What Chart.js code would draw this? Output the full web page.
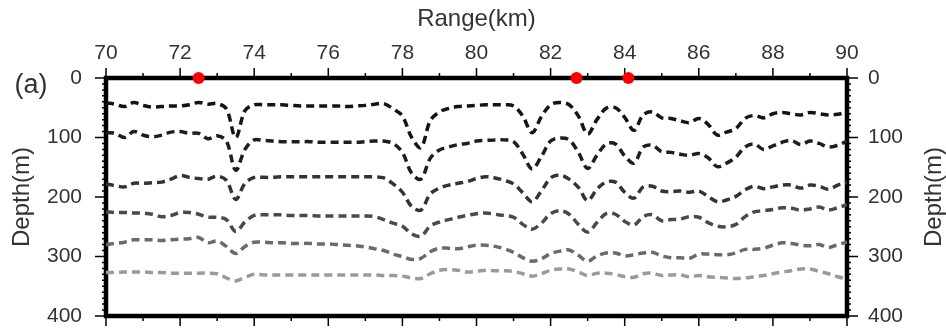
<!DOCTYPE html>
<html>
<head>
<meta charset="utf-8">
<script src="https://cdn.jsdelivr.net/npm/chart.js@4"></script>
<style>
  body { margin: 0; background: #fff; }
  canvas { display: block; }
</style>
</head>
<body>
<canvas id="depthChart" width="946" height="328"></canvas>
<script>
// range along the profile (km)
const rangeKm = [
  70, 70.25, 70.5, 70.75, 71, 71.25, 71.5, 71.75, 72, 72.25, 72.5, 72.75, 73, 73.25, 73.5, 73.75, 74, 74.25, 74.5, 74.75,
  75, 75.25, 75.5, 75.75, 76, 76.25, 76.5, 76.75, 77, 77.25, 77.5, 77.75, 78, 78.25, 78.5, 78.75, 79, 79.25, 79.5, 79.75,
  80, 80.25, 80.5, 80.75, 81, 81.25, 81.5, 81.75, 82, 82.25, 82.5, 82.75, 83, 83.25, 83.5, 83.75, 84, 84.25, 84.5, 84.75,
  85, 85.25, 85.5, 85.75, 86, 86.25, 86.5, 86.75, 87, 87.25, 87.5, 87.75, 88, 88.25, 88.5, 88.75, 89, 89.25, 89.5, 89.75, 90
];

// depth of each interface (m), shallowest first
const depth1 = [
  42, 44, 48, 41, 46, 49, 48, 47, 47, 45, 41, 44, 43, 52, 100, 55, 45, 45, 45, 45,
  46, 47, 47, 47, 47, 47, 48, 47, 46, 44, 43, 52, 64, 100, 117, 72, 57, 51, 48, 47,
  46, 45, 45, 45, 47, 64, 92, 65, 45, 41, 45, 64, 94, 70, 51, 50, 66, 88, 62, 57,
  67, 68, 72, 75, 68, 78, 96, 91, 85, 68, 63, 67, 60, 58, 60, 62, 58, 60, 62, 61, 57
];
const depth2 = [
  92, 93, 100, 90, 96, 99, 96, 91, 90, 93, 93, 102, 97, 106, 155, 120, 104, 105, 106, 107,
  107, 107, 107, 108, 108, 108, 108, 108, 107, 106, 106, 110, 125, 160, 170, 135, 121, 116, 112, 110,
  106, 105, 104, 104, 107, 128, 153, 132, 106, 101, 104, 125, 152, 130, 111, 111, 131, 143, 116, 113,
  124, 125, 128, 130, 127, 134, 149, 143, 133, 116, 111, 120, 114, 108, 105, 112, 106, 110, 116, 113, 106
];
const depth3 = [
  178, 181, 183, 177, 177, 176, 175, 170, 164, 167, 169, 170, 165, 172, 204, 177, 167, 167, 167, 166,
  166, 166, 166, 166, 166, 166, 166, 166, 166, 166, 168, 178, 192, 216, 222, 195, 185, 180, 177, 174,
  169, 166, 168, 172, 178, 193, 208, 190, 168, 163, 170, 184, 206, 187, 175, 175, 192, 202, 183, 182,
  190, 191, 190, 192, 190, 199, 208, 205, 199, 188, 182, 186, 183, 180, 180, 185, 180, 182, 187, 180, 175
];
const depth4 = [
  225, 226, 226, 227, 227, 229, 233, 231, 226, 226, 229, 234, 234, 238, 258, 242, 231, 230, 230, 230,
  231, 231, 231, 232, 232, 232, 232, 232, 232, 233, 238, 244, 249, 262, 266, 249, 242, 238, 234, 231,
  228, 227, 229, 231, 234, 246, 254, 244, 228, 223, 229, 246, 259, 243, 228, 229, 241, 247, 233, 230,
  240, 238, 237, 233, 234, 243, 249, 250, 246, 233, 225, 223, 221, 218, 219, 222, 220, 217, 222, 218, 213
];
const depth5 = [
  280, 278, 276, 272, 272, 272, 273, 272, 271, 270, 268, 277, 274, 283, 295, 283, 276, 276, 277, 277,
  278, 278, 278, 279, 279, 280, 281, 282, 284, 287, 290, 296, 300, 305, 303, 292, 286, 286, 287, 284,
  281, 281, 283, 287, 293, 302, 308, 304, 295, 291, 289, 298, 308, 299, 294, 294, 299, 297, 294, 293,
  299, 302, 302, 303, 296, 296, 297, 297, 294, 288, 288, 286, 281, 277, 278, 281, 282, 280, 285, 280, 276
];
const depth6 = [
  327, 327, 326, 326, 326, 327, 327, 328, 328, 328, 328, 328, 329, 336, 341, 335, 330, 331, 331, 331,
  331, 331, 331, 331, 331, 331, 331, 331, 331, 331, 332, 332, 333, 336, 337, 329, 323, 322, 323, 326,
  325, 323, 324, 324, 325, 329, 333, 329, 323, 321, 321, 326, 332, 328, 328, 330, 334, 335, 329, 328,
  332, 331, 331, 334, 332, 334, 335, 336, 337, 336, 334, 332, 329, 326, 324, 321, 321, 325, 329, 334, 338
];

// station positions along the surface (km)
const stationKm = [72.5, 82.7, 84.1];

const layers = [depth1, depth2, depth3, depth4, depth5, depth6];
const layerColors = ["#141414", "#1e1e1e", "#333333", "#4a4a4a", "#6a6a6a", "#9a9a9a"];

const FONT = "'Liberation Sans', Arial, sans-serif";
const TEXT = "#333333";

// thick frame with ticks, panel letter and the right-hand title
const framePlugin = {
  id: "frame",
  beforeDatasetsDraw(chart) {
    const { ctx, chartArea: a, scales } = chart;
    const xs = scales.x, ys = scales.y;
    ctx.save();
    ctx.strokeStyle = "#000";
    ctx.lineWidth = 1.5;
    ctx.beginPath();
    for (let km = 70; km <= 90; km++) {
      const px = xs.getPixelForValue(km);
      const len = km % 2 === 0 ? 10 : 5;
      ctx.moveTo(px, a.top); ctx.lineTo(px, a.top - len);
      ctx.moveTo(px, a.bottom); ctx.lineTo(px, a.bottom + len);
    }
    for (let d = 0; d <= 400; d += 10) {
      const py = ys.getPixelForValue(d);
      const len = d % 100 === 0 ? 11 : 4;
      ctx.moveTo(a.left, py); ctx.lineTo(a.left - len, py);
      ctx.moveTo(a.right, py); ctx.lineTo(a.right + len, py);
    }
    ctx.stroke();
    ctx.lineWidth = 4.5;
    ctx.strokeRect(a.left, a.top, a.right - a.left, a.bottom - a.top);

    ctx.fillStyle = TEXT;
    ctx.textAlign = "center";
    ctx.textBaseline = "middle";
    ctx.font = "27px " + FONT;
    ctx.fillText("(a)", 31, 86);

    ctx.font = "24px " + FONT;
    ctx.translate(934, (a.top + a.bottom) / 2);
    ctx.rotate(-Math.PI / 2);
    ctx.fillText("Depth(m)", 0, 0);
    ctx.restore();
  }
};

// fixed box sizes so the plot area sits where it should
function fixWidth(w) {
  return s => { s.width = w; s.paddingTop = 0; s.paddingBottom = 0; };
}

const datasets = layers.map((depths, i) => ({
  data: rangeKm.map((km, j) => ({ x: km, y: depths[j] })),
  borderColor: layerColors[i],
  borderWidth: 3.5,
  borderDash: [8, 5],
  pointRadius: 0,
  tension: 0.35,
  fill: false
}));

datasets.push({
  type: "scatter",
  data: stationKm.map(km => ({ x: km, y: 0 })),
  backgroundColor: "#ff0000",
  borderWidth: 0,
  pointRadius: 6,
  clip: false
});

new Chart(document.getElementById("depthChart"), {
  type: "line",
  data: { datasets: datasets },
  plugins: [framePlugin],
  options: {
    responsive: false,
    animation: false,
    devicePixelRatio: 1,
    layout: { autoPadding: false, padding: 0 },
    plugins: { legend: { display: false }, tooltip: { enabled: false } },
    scales: {
      x: {
        type: "linear",
        position: "top",
        min: 70,
        max: 90,
        ticks: { stepSize: 2, padding: 12, color: TEXT, font: { family: FONT, size: 21 } },
        grid: { display: false, drawTicks: false },
        border: { display: false },
        title: { display: true, text: "Range(km)", color: TEXT, padding: { top: 5, bottom: 0 }, font: { family: FONT, size: 24 } },
        afterFit(s) { s.height = 78; }
      },
      xBottom: {
        type: "linear",
        axis: "x",
        position: "bottom",
        min: 70,
        max: 90,
        ticks: { display: false },
        grid: { display: false, drawTicks: false },
        border: { display: false },
        afterFit(s) { s.height = 12; }
      },
      y: {
        type: "linear",
        position: "left",
        reverse: true,
        min: 0,
        max: 400,
        ticks: { stepSize: 100, padding: 24, color: TEXT, font: { family: FONT, size: 21 } },
        grid: { display: false, drawTicks: false },
        border: { display: false },
        title: { display: true, text: "Depth(m)", color: TEXT, padding: { top: 8, bottom: 0 }, font: { family: FONT, size: 24 } },
        afterFit: fixWidth(106)
      },
      y2: {
        type: "linear",
        position: "right",
        reverse: true,
        min: 0,
        max: 400,
        ticks: { stepSize: 100, padding: 21, color: TEXT, font: { family: FONT, size: 21 } },
        grid: { display: false, drawTicks: false },
        border: { display: false },
        afterFit: fixWidth(99)
      }
    }
  }
});
</script>
</body>
</html>
